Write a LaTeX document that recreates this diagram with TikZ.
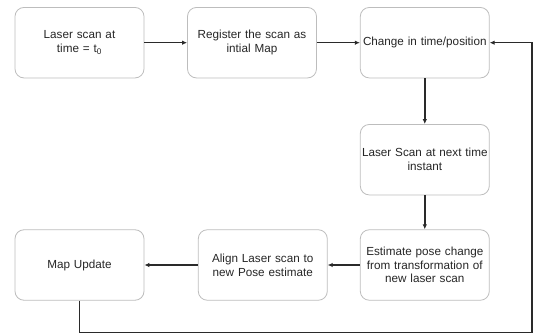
\documentclass[tikz,border=0pt]{standalone}
\usepackage{fontspec}
\setmainfont{Liberation Sans}
\usetikzlibrary{arrows.meta}
\definecolor{boxline}{HTML}{BDBDBD}
\definecolor{edgeline}{HTML}{2A2A2A}
\definecolor{txt}{HTML}{262626}
\tikzset{
  stepbox/.style={draw=boxline, line width=0.8pt, rounded corners=9pt, fill=white,
    minimum width=129pt, minimum height=70.5pt, inner sep=0pt,
    text width=126pt, align=center, text=txt,
    font=\fontsize{11.7}{13.8}\selectfont},
  flow/.style={draw=edgeline, line width=1.5pt, -{Latex[length=5pt,width=4.5pt]}}
}
\begin{document}
\begin{tikzpicture}[x=1pt,y=-1pt]
\useasboundingbox (0,0) rectangle (533,334);
\node[stepbox] (b1) at (79.5,42.7) {Laser scan at\\time = t\textsubscript{0}};
\node[stepbox] (b2) at (252,42.7) {Register the scan as\\intial Map};
\node[stepbox] (b3) at (424.8,42.7) {Change in time/position};
\node[stepbox] (b4) at (424.8,159.7) {Laser Scan at next time\\instant};
\node[stepbox] (b5) at (424.8,265) {Estimate pose change\\from transformation of\\new laser scan};
\node[stepbox] (b6) at (262.8,265) {Align Laser scan to\\new Pose estimate};
\node[stepbox] (b7) at (79.5,265) {Map Update};
\coordinate (fb1) at (79.5,332.3);
\coordinate (fb2) at (531.8,332.3);
\draw[flow] (b1) -- (b2);
\draw[flow] (b2) -- (b3);
\draw[flow] (b3) -- (b4);
\draw[flow] (b4) -- (b5);
\draw[flow] (b5) -- (b6);
\draw[flow] (b6) -- (b7);
\draw[flow] (b7.south) -- (fb1) -- (fb2) -- (fb2 |- b3.east) -- (b3.east);
\end{tikzpicture}
\end{document}
